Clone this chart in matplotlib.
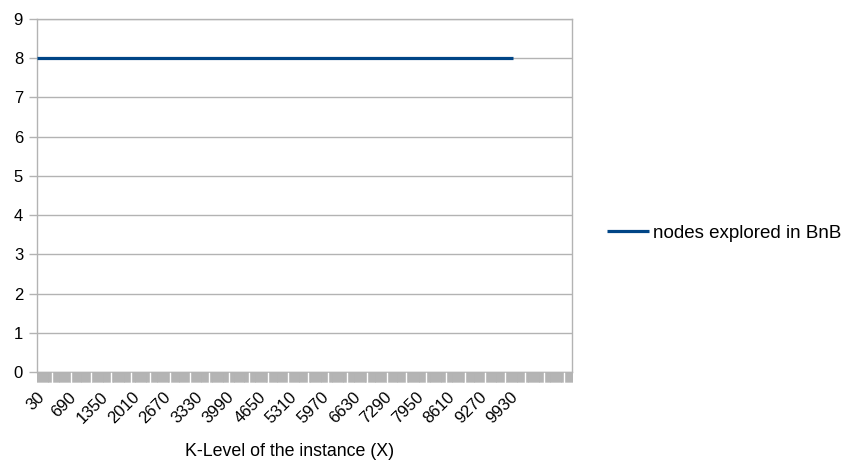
import matplotlib
matplotlib.use("Agg")
import matplotlib.pyplot as plt
import numpy as np

plt.rcParams['font.family'] = ['Liberation Sans', 'DejaVu Sans']

# K-levels of the instances (categories) and nodes explored per instance
k_levels = list(range(30, 10000, 10))
nodes_explored = [8] * len(k_levels)
n_axis_categories = 1120          # category axis continues past the data with empty slots
label_every = 66                  # one label every 660 k-levels
y_ticks = list(range(0, 10))

grid_col = '#b3b3b3'
line_col = '#004586'

fig = plt.figure(figsize=(8.49, 4.63), dpi=100)
ax_w_px, ax_h_px = 572 - 37, 372 - 19
ax = fig.add_axes([37 / 849, 1 - 372 / 463, ax_w_px / 849, ax_h_px / 463])

idx = np.arange(len(k_levels))
ax.plot(idx, nodes_explored, color=line_col, linewidth=2.3, solid_capstyle='butt',
        label='nodes explored in BnB', zorder=3)

ax.set_xlim(0, n_axis_categories - 1)
ax.set_ylim(0, 9)

# category labels
major_pos = idx[::label_every]
ax.set_xticks(major_pos)
ax.set_xticklabels([str(k_levels[i]) for i in major_pos], rotation=45,
                   ha='right', va='top', rotation_mode='anchor', fontsize=12)
ax.set_xticks(np.arange(0, n_axis_categories), minor=True)
ax.tick_params(axis='x', which='both', length=7.5, width=0.6, color=grid_col,
               direction='out', pad=3)
ax.tick_params(axis='x', which='major', pad=5)

# interval marks are so dense they merge into a band; it shows light breaks
band_h = 10 / ax_h_px
for k in range(27):
    xf = (14.7 + 19.7 * k) / ax_w_px
    if xf < 1:
        ax.plot([xf, xf], [-0.004, -band_h - 0.004], color='white', linewidth=1.0,
                transform=ax.transAxes, clip_on=False, zorder=5)

ax.set_yticks(y_ticks)
ax.tick_params(axis='y', length=6, width=1, color=grid_col, labelsize=12, pad=4)
ax.yaxis.grid(True, color=grid_col, linewidth=1)
ax.set_axisbelow(True)

for side in ['left', 'right', 'top', 'bottom']:
    ax.spines[side].set_color(grid_col)
    ax.spines[side].set_linewidth(1)

ax.set_xlabel('K-Level of the instance (X)', fontsize=12.8)
ax.xaxis.set_label_coords((290 - 37) / ax_w_px, (372 - 443) / ax_h_px)

fig.legend(loc='center left', bbox_to_anchor=(590 / 849, 1 - 233 / 463), frameon=False,
           fontsize=13.5, handlelength=2.22, handletextpad=0.26)

fig.savefig('out.png', dpi=100)
